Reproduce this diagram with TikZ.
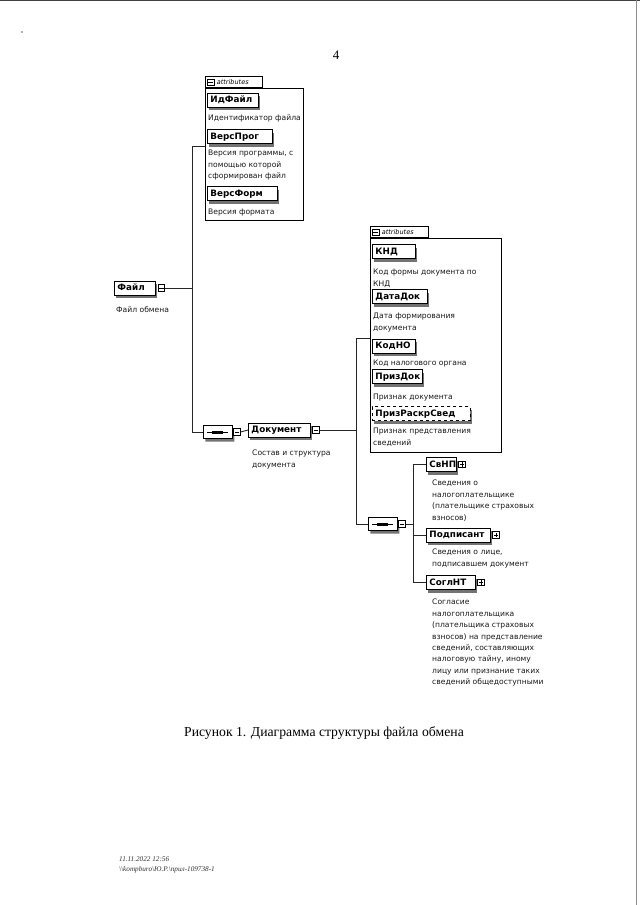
\documentclass[tikz,border=0pt]{standalone}
\usepackage{fontspec}
\setmainfont{Liberation Serif}
\newfontfamily\dgm{DejaVu Sans}
\usetikzlibrary{shapes.misc,shadows}
\newcommand{\elbl}[2]{\makebox[#1][l]{#2}}
\begin{document}
\begin{tikzpicture}[x=1pt,y=-1pt,
  conn/.style={line width=0.9pt, draw=black!85},
  elem/.style={draw, line width=0.9pt, fill=white, anchor=west, minimum height=14pt,
    text height=6.6pt, text depth=1.6pt,
    inner xsep=3pt, inner ysep=0pt, font=\dgm\fontsize{8.8}{10}\selectfont\bfseries,
    general shadow={fill=black!55, shadow xshift=2pt, shadow yshift=-3pt}},
  optelem/.style={elem, dashed},
  desc/.style={anchor=north west, inner sep=0pt, font=\dgm\fontsize{7.6}{11.4}\selectfont,
    align=left, text=black!90},
  grp/.style={draw, line width=0.8pt, anchor=north west, inner sep=0pt},
  tabb/.style={draw, line width=0.8pt, anchor=south west, inner xsep=1.5pt, inner ysep=0pt,
    minimum height=11pt, font=\dgm\fontsize{6.5}{7}\selectfont\itshape},
  icon/.style={draw, line width=0.7pt, fill=white, minimum size=6.5pt, inner sep=0pt, anchor=west},
  minusicon/.style={icon, path picture={\draw[line width=0.7pt]
     ([xshift=1pt]path picture bounding box.west) -- ([xshift=-1pt]path picture bounding box.east);}},
  plusicon/.style={icon, path picture={\draw[line width=0.7pt]
     ([xshift=1pt]path picture bounding box.west) -- ([xshift=-1pt]path picture bounding box.east)
     ([yshift=-1pt]path picture bounding box.north) -- ([yshift=1pt]path picture bounding box.south);}},
  seqbox/.style={chamfered rectangle, chamfered rectangle xsep=4pt, draw, line width=0.9pt,
    fill=white, minimum width=29pt, minimum height=13pt, inner sep=0pt, anchor=west,
    general shadow={fill=black!55, shadow xshift=2pt, shadow yshift=-3pt},
    path picture={
      \draw[line width=0.8pt] ([xshift=4pt]path picture bounding box.west) -- ([xshift=-4pt]path picture bounding box.east);
      \draw[line width=3pt] ([xshift=-5.5pt]path picture bounding box.center) -- ([xshift=5.5pt]path picture bounding box.center);
    }},
]
\useasboundingbox (0,0) rectangle (640,905);
\fill[white] (0,0) rectangle (640,905);
% scan edges
\draw[black!75, line width=1.2pt] (0,0.6) -- (640,0.6);
\draw[black!45, line width=0.8pt] (636.5,0) -- (636.5,905);
\fill[black!60] (22,32) circle (0.8);

% page number
\node[font=\fontsize{13}{15}\selectfont] (pgnum) at (336,55) {4};

% ---------- attributes group 1
\node[grp, minimum width=98pt, minimum height=132pt] (attr1) at (205,88) {};
\node[tabb, minimum width=57pt] (attr1tab) at (attr1.north west) {\elbl{54pt}{\hspace*{10pt}attributes}};
\node[minusicon] (attr1tm) at ([xshift=2pt]attr1tab.west) {};
\node[elem] (idfajl) at (207,100) {\elbl{45pt}{ИдФайл}};
\node[desc] (idfajld) at (208,115) {Идентификатор файла};
\node[elem] (versprog) at (207,136.5) {\elbl{59pt}{ВерсПрог}};
\node[desc] (versprogd) at (208,150) {Версия программы, с\\помощью которой\\сформирован файл};
\node[elem] (versform) at (207,193.5) {\elbl{64pt}{ВерсФорм}};
\node[desc] (versformd) at (208,209) {Версия формата};

% ---------- Файл
\node[elem] (fajl) at (114,288) {\elbl{35pt}{Файл}};
\node[minusicon] (fajlm) at ([xshift=2pt]fajl.east) {};
\node[desc] (fajld) at (116,306) {Файл обмена};

% ---------- sequence 1 and Документ
\node[seqbox] (seq1) at (203,432) {};
\node[minusicon] (seq1m) at ([xshift=0.5pt]seq1.east) {};
\node[elem] (dok) at (248,430) {\elbl{56pt}{Документ}};
\node[minusicon] (dokm) at ([xshift=1.5pt]dok.east) {};
\node[desc] (dokd) at (252,450) {Состав и структура\\документа};

% ---------- attributes group 2
\node[grp, minimum width=131pt, minimum height=214pt] (attr2) at (370,238) {};
\node[tabb, minimum width=58pt] (attr2tab) at (attr2.north west) {\elbl{55pt}{\hspace*{10pt}attributes}};
\node[minusicon] (attr2tm) at ([xshift=2pt]attr2tab.west) {};
\node[elem] (knd) at (372,251.5) {\elbl{37pt}{КНД}};
\node[desc] (kndd) at (373,269) {Код формы документа по\\КНД};
\node[elem] (datadok) at (372,296.5) {\elbl{49pt}{ДатаДок}};
\node[desc] (datadokd) at (373,313) {Дата формирования\\документа};
\node[elem] (kodno) at (372,346) {\elbl{37pt}{КодНО}};
\node[desc] (kodnod) at (373,360) {Код налогового органа};
\node[elem] (prizdok) at (372,376.5) {\elbl{44pt}{ПризДок}};
\node[desc] (prizdokd) at (373,394) {Признак документа};
\node[optelem] (prizraskr) at (372,413.5) {\elbl{92pt}{ПризРаскрСвед}};
\node[desc] (prizraskrd) at (373,428) {Признак представления\\сведений};

% ---------- sequence 2 and children
\node[seqbox] (seq2) at (368,524) {};
\node[minusicon] (seq2m) at ([xshift=0.5pt]seq2.east) {};
\node[elem] (svnp) at (426,464.5) {\elbl{24pt}{СвНП}};
\node[plusicon] (svnpp) at ([xshift=1.5pt]svnp.east) {};
\node[desc] (svnpd) at (432,480) {Сведения о\\налогоплательщике\\(плательщике страховых\\взносов)};
\node[elem] (podp) at (426,535) {\elbl{58pt}{Подписант}};
\node[plusicon] (podpp) at ([xshift=1.5pt]podp.east) {};
\node[desc] (podpd) at (432,549) {Сведения о лице,\\подписавшем документ};
\node[elem] (soglnt) at (426,582.5) {\elbl{43pt}{СоглНТ}};
\node[plusicon] (soglntp) at ([xshift=1.5pt]soglnt.east) {};
\node[desc] (soglntd) at (432,599) {Согласие\\налогоплательщика\\(плательщика страховых\\взносов) на представление\\сведений, составляющих\\налоговую тайну, иному\\лицу или признание таких\\сведений общедоступными};

% ---------- connectors
\coordinate (j1t) at (192,146);
\coordinate (j1b) at (192,432);
\draw[conn] (fajlm.east) -- (fajlm.east -| j1t);
\draw[conn] (attr1.west |- j1t) -- (j1t) -- (j1b) -- (seq1.west);
\draw[conn] (seq1m.east) -- (dok.west);

\coordinate (j2t) at (356,338);
\coordinate (j2b) at (356,524);
\draw[conn] (dokm.east) -- (dokm.east -| j2t);
\draw[conn] (attr2.west |- j2t) -- (j2t) -- (j2b) -- (seq2.west);

\coordinate (j3t) at (413,464.5);
\coordinate (j3b) at (413,582.5);
\draw[conn] (seq2m.east) -- (seq2m.east -| j3t);
\draw[conn] (svnp.west) -- (j3t) -- (j3b) -- (soglnt.west);
\draw[conn] (podp.west) -- (podp.west -| j3t);

% ---------- caption and footer
\node[font=\fontsize{13.7}{16}\selectfont] (cap) at (324,733) {Рисунок 1. Диаграмма структуры файла обмена};
\node[anchor=north west, inner sep=0pt, align=left, font=\fontsize{7.2}{9.5}\selectfont\itshape, text=black!80] (foot) at (119,857)
  {11.11.2022 12:56\\\textbackslash\textbackslash kompburo\textbackslash Ю.Р.\textbackslash прил-109738-1};
\end{tikzpicture}
\end{document}
